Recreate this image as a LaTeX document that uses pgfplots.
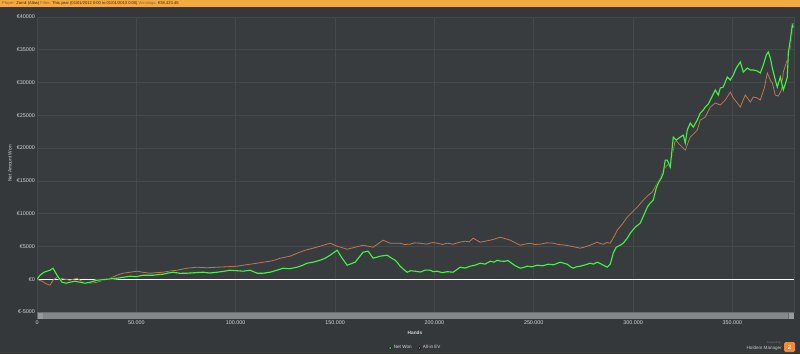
\documentclass[border=0pt]{standalone}
\usepackage{pgfplots}
\usepackage{pgfplotstable}
\pgfplotsset{compat=1.18}
\usepackage{fontspec}
\setmainfont{Liberation Sans}
\definecolor{bg}{HTML}{35383B}
\definecolor{plotbg}{HTML}{393C3F}
\definecolor{gridc}{HTML}{46494C}
\definecolor{topbar}{HTML}{F2AA42}
\definecolor{barlab}{HTML}{9A6424}
\definecolor{barval}{HTML}{3A2810}
\definecolor{netwon}{HTML}{5BE35B}
\definecolor{netwondark}{HTML}{1C5422}
\definecolor{allin}{HTML}{BC7850}
\definecolor{ticktext}{HTML}{D6D6D6}
\definecolor{scroll}{HTML}{85888B}
\definecolor{scrolldark}{HTML}{6A6D70}

\pgfplotstableread{
x y
0 0
1510 611
3525 1069
6546 1374
8056 1680
10070 611
12588 -458
14600 -611
16616 -458
19133 -305
21650 -458
24168 -611
26686 -458
30210 -153
35245 0
40280 153
43500 300
46826 458
50000 400
53371 611
58406 611
61000 700
63441 764
66000 950
68476 1069
72000 900
75525 916
79500 1000
83581 1069
87000 950
90630 1069
94000 1200
97176 1374
100500 1300
103721 1222
107246 1374
110770 916
113791 916
117316 1069
120500 1350
123862 1680
127000 1600
130910 1832
133500 2100
135945 2443
138966 2596
142490 2901
145000 3200
147526 3665
151050 4428
153568 3207
156085 2138
160113 2596
164141 4123
166658 4276
169176 3207
172700 3512
176225 3665
178000 3300
180253 2901
181500 2500
182770 1985
184500 1500
186295 1069
188000 1300
190323 1222
193000 1100
195500 1400
197875 1374
199500 1150
201400 1222
204000 1000
206500 1150
209456 1069
211000 1400
212980 1832
215500 1700
218015 1985
220500 2150
223050 2443
225500 2300
228085 2749
230000 2600
231610 2901
233500 2750
235638 2749
237000 2850
238155 2596
240500 2100
243190 1680
245000 1800
246715 1985
249000 1900
251750 2138
254500 2050
257288 2290
260000 2200
263330 2596
265000 2450
266855 2290
268500 1900
269876 1680
271500 1900
273400 1985
276000 2200
278436 2443
280000 2300
281960 2596
283500 2400
284981 2138
286995 1832
288506 2290
290016 3970
291527 4886
293540 5192
295051 5497
297065 6261
298576 7024
301093 7940
303611 8551
305625 9926
307135 10994
308646 11605
310156 12063
311666 13896
312673 14659
314184 15423
315191 16186
316198 18171
317205 18171
318715 17102
320226 21683
321736 21225
323750 21683
325261 21989
326268 20767
327275 22752
328786 23821
330296 23210
332310 24279
333821 25348
335331 25806
336338 26264
337848 26723
338855 27333
340366 28250
341373 28860
342883 28097
343890 29166
345401 29318
346408 30082
347415 30845
348925 30387
350436 31151
351946 32220
353960 33136
355471 31609
357485 32220
358995 31914
360506 31914
362520 31762
364030 31456
365541 32678
367051 34205
368058 34663
369065 33747
370076 32220
371586 30387
372593 29318
374103 30845
375614 28860
376620 29777
377627 30845
378131 34510
379138 36496
380145 38786
380648 38423
}\netwontable

\pgfplotstableread{
x y
0 0
2518 -305
5035 -764
6546 -916
8056 -153
10070 305
11581 153
16616 -153
20140 153
23161 -458
26686 -611
30210 -458
33231 -153
36756 153
40280 611
43301 916
46826 1069
50350 1222
53500 1050
56896 916
60000 1000
63441 1069
67000 1250
70490 1374
75525 1680
80560 1832
85500 1750
90630 1832
95500 1900
100700 1985
104000 2150
107246 2290
110770 2443
113791 2596
117316 2749
120000 2950
122351 3207
127386 3512
130910 3970
134938 4428
138966 4734
142490 5039
147526 5497
151050 5039
156085 4581
160113 4886
164141 5192
169176 4886
174211 5955
177736 5497
182770 5497
185000 5300
187805 5344
190000 5550
192840 5497
196000 5350
199000 5600
201400 5497
204000 5300
206500 5500
209456 5344
212000 5600
215498 5803
217500 5700
219526 6261
221000 6000
223050 5650
225500 5800
228085 5955
230500 6150
233120 6414
235500 6200
238155 5955
240500 5600
243190 5192
245500 5350
248225 5497
250500 5300
253260 5344
256500 5550
259806 5497
262500 5300
265848 5192
268500 5050
271000 4900
273400 4734
276000 4950
278436 5192
280000 5400
281960 5650
283500 5450
284981 5344
286800 5600
288506 5497
290520 6566
292030 7482
294548 8398
297065 9467
299583 10231
302100 10994
305121 12063
307638 12827
309652 13285
312170 14659
313680 15423
315191 16644
317205 17408
318715 17713
320226 19698
321233 21225
323750 20461
326268 19698
327778 20920
328786 21683
330800 22294
332310 22752
333821 24279
336338 24737
338855 26264
341373 26875
343890 26570
346408 27333
348925 28555
350436 27639
352450 26875
353960 26264
356478 28097
358995 27028
360506 27791
362520 27639
364030 27333
366044 29166
367555 31456
369065 30387
370076 29929
371586 28097
373096 27944
374607 28860
375614 31609
377627 33441
379138 35426
380145 38023
380648 39091
}\allintable

\begin{document}
\begin{tikzpicture}[x=1bp,y=1bp]
\useasboundingbox (0,0) rectangle (800,354);
\fill[bg] (0,0) rectangle (800,354);
\fill[topbar] (0,346.5) rectangle (800,354);
\node[anchor=west, inner sep=0, font=\fontsize{4.1}{4.1}\selectfont] at (2,350.4)
  {\textcolor{barlab}{Player:} \textcolor{barval}{Zarnil (Alias)} \textcolor{barlab}{Filter:} \textcolor{barval}{This year (01/01/2012 0:00 to 01/01/2013 0:00)} \textcolor{barlab}{Winnings:} \textcolor{barval}{€38,423.45}};

\begin{axis}[
  at={(37bp,42bp)}, anchor=south west,
  scale only axis, width=757bp, height=295bp,
  xmin=0, xmax=381000, ymin=-5000, ymax=40000,
  axis background/.style={fill=plotbg},
  axis line style={draw=gridc, line width=0.6bp},
  grid=major,
  major grid style={draw=gridc, line width=0.6bp},
  tick style={draw=none},
  xtick={0,50000,100000,150000,200000,250000,300000,350000},
  xticklabels={0,50.000,100.000,150.000,200.000,250.000,300.000,350.000},
  ytick={-5000,0,5000,10000,15000,20000,25000,30000,35000,40000},
  yticklabels={€-5000,€0,€5000,€10000,€15000,€20000,€25000,€30000,€35000,€40000},
  extra y ticks={0}, extra y tick labels={},
  extra y tick style={grid=major, major grid style={draw=white, line width=1.1bp}},
  scaled x ticks=false, scaled y ticks=false,
  /pgf/number format/assume math mode=true,
  ticklabel style={font=\fontsize{5.4}{6}\selectfont, text=ticktext},
  yticklabel style={inner sep=0pt, xshift=-2bp},
  xticklabel style={inner sep=0pt, yshift=-9bp},
  legend style={at={(0.5,-0.122)}, anchor=center, draw=none, fill=none,
    legend columns=2, font=\fontsize{4.6}{5}\selectfont, text=ticktext,
    /tikz/every even column/.append style={column sep=4bp},
    inner sep=0pt},
  legend image code/.code={\fill[#1] (1.5bp,0bp) circle (1.5bp);},
  legend cell align=left,
]
\addplot[allin, line width=0.8bp, forget plot] table[x=x,y=y] {\allintable};
\addplot[netwondark, line width=2.3bp, forget plot] table[x=x,y=y] {\netwontable};
\addplot[netwon, line width=1.1bp, forget plot] table[x=x,y=y] {\netwontable};
\addlegendimage{fill=netwon}
\addlegendentry{Net Won}
\addlegendimage{fill=allin}
\addlegendentry{All-in EV}
\end{axis}

% navigator scrollbar
\fill[scrolldark] (37,35) rectangle (794,42);
\fill[scroll] (43,35.5) rectangle (788,41.5);
\fill[scrolldark!70!white] (37.5,35.5) rectangle (42.5,41.5);
\fill[scrolldark!70!white] (788.5,35.5) rectangle (793.5,41.5);

\node[rotate=90, inner sep=0, font=\fontsize{4.8}{5}\selectfont, text=ticktext] at (10,190.5) {Net Amount Won};
\node[inner sep=0, font=\bfseries\fontsize{4.8}{5}\selectfont, text=ticktext] at (415,21) {Hands};

\node[anchor=east, inner sep=0, font=\fontsize{2.6}{3}\selectfont, text=gray] at (781,11.5) {Powered by};
\node[anchor=east, inner sep=0, font=\fontsize{4.6}{5}\selectfont, text=ticktext!80!gray] at (782,6) {Holdem Manager};
\fill[topbar!80!red, rounded corners=1.5bp] (784,2) rectangle (795,12);
\node[inner sep=0, font=\bfseries\fontsize{6}{6}\selectfont, text=white] at (789.5,7) {2};
\end{tikzpicture}
\end{document}
